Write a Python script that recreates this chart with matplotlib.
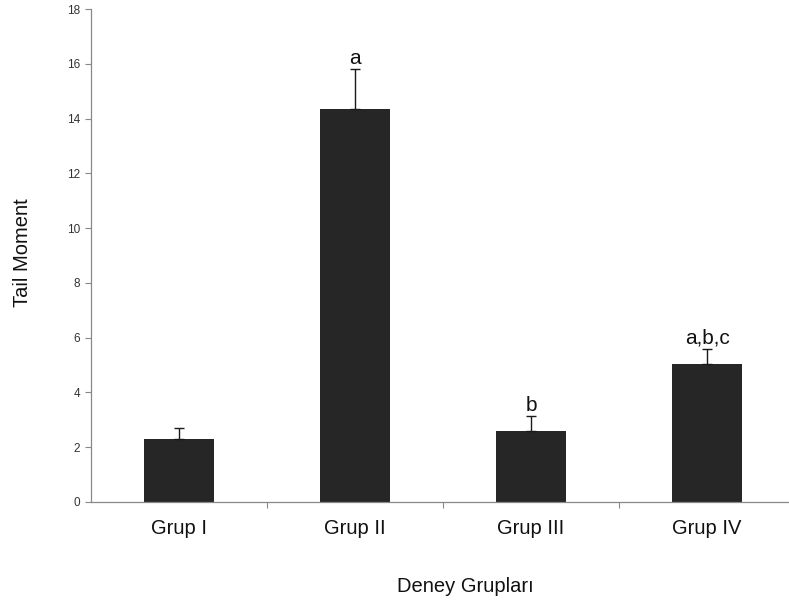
import numpy as np
import matplotlib
matplotlib.use("Agg")
import matplotlib.pyplot as plt

groups = ["Grup I", "Grup II", "Grup III", "Grup IV"]
means = [2.31, 14.35, 2.60, 5.04]
errors = [0.38, 1.46, 0.54, 0.56]
letters = ["", "a", "b", "a,b,c"]

plt.rcParams["font.family"] = ["Liberation Sans", "DejaVu Sans"]

fig = plt.figure(figsize=(7.89, 6.05), dpi=100)
ax = fig.add_axes([91 / 789, 103 / 605, 704 / 789, 493 / 605])

x = np.arange(len(groups))
ax.bar(x, means, width=0.403, color="#262626", zorder=2)
ax.errorbar(x, means, yerr=[np.zeros(len(means)), errors], fmt="none",
            ecolor="#1a1a1a", elinewidth=1, capsize=3.5, capthick=1, zorder=3)

for xi, m, e, lab in zip(x, means, errors, letters):
    if lab:
        ax.annotate(lab, (xi, m + e), xytext=(0, 1), textcoords="offset points",
                    ha="center", va="bottom", fontsize=15, color="#111111")

ax.set_xlim(-0.5, 3.5)
ax.set_ylim(0, 18)
ax.set_yticks(np.arange(0, 19, 2))
ax.tick_params(axis="y", labelsize=8.5, colors="#888888", labelcolor="#333333",
               length=4, width=0.8, direction="out", pad=4)

ax.set_xticks(x)
ax.set_xticklabels(groups, fontsize=14.5, color="#111111")
ax.set_xticks([0.5, 1.5, 2.5], minor=True)
ax.tick_params(axis="x", which="major", length=0, pad=12)
ax.tick_params(axis="x", which="minor", length=4, width=0.8, colors="#888888")

for side in ["top", "right"]:
    ax.spines[side].set_visible(False)
for side in ["left", "bottom"]:
    ax.spines[side].set_color("#888888")
    ax.spines[side].set_linewidth(0.9)

ax.set_ylabel("Tail Moment", fontsize=14.5, color="#111111")
ax.yaxis.set_label_coords(-59 / 704, 0.505)
ax.set_xlabel("Deney Grupları", fontsize=14.5, color="#111111")
# the x label is centred on the visible part of the axis
ax.xaxis.set_label_coords((465 - 91) / 704, -75 / 493)

fig.savefig("out.png", dpi=100)
